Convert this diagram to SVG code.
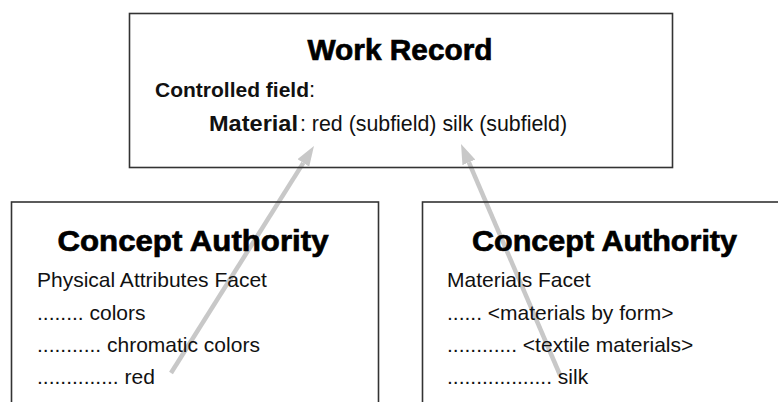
<svg xmlns="http://www.w3.org/2000/svg" width="778" height="402" viewBox="0 0 778 402">
  <style>
    .box { fill: none; stroke: #333; stroke-width: 1.6; }
    .title { font-family: "Liberation Sans", Arial, sans-serif; font-weight: bold; font-size: 30px; fill: #000; stroke: #000; stroke-width: 0.7; text-anchor: middle; }
    .bold { font-family: "Liberation Sans", Arial, sans-serif; font-weight: bold; fill: #111; }
    .txt { font-family: "Liberation Sans", Arial, sans-serif; font-size: 21px; fill: #111; }
    .lbl { font-family: "Liberation Sans", Arial, sans-serif; font-size: 22px; fill: #111; }
    .conn { stroke: #c8c8c8; stroke-width: 4.5; fill: none; }
  </style>
  <defs>
    <marker id="head" markerUnits="userSpaceOnUse" markerWidth="20" markerHeight="14" viewBox="0 -7 20 14" refX="0" refY="0" orient="auto">
      <path d="M0,-7 L20,0 L0,7 z" fill="#c8c8c8"/>
    </marker>
  </defs>
  <rect width="778" height="402" fill="#fff"/>
  <g id="connectors">
    <line class="conn" x1="171" y1="373" x2="303.3" y2="162.9" marker-end="url(#head)"/>
    <line class="conn" x1="560" y1="375" x2="468.9" y2="162.4" marker-end="url(#head)"/>
  </g>
  <g id="work-record">
    <rect class="box" x="129.5" y="13.5" width="543" height="154"/>
    <text class="title" x="400" y="60" textLength="185" lengthAdjust="spacingAndGlyphs">Work Record</text>
    <text class="bold" x="155" y="97" font-size="21">Controlled field</text>
    <text class="lbl" x="309" y="97">:</text>
    <text class="bold" x="209" y="131" font-size="22" textLength="89" lengthAdjust="spacingAndGlyphs">Material</text>
    <text class="lbl" x="300" y="131" textLength="267" lengthAdjust="spacingAndGlyphs">: red (subfield) silk (subfield)</text>
  </g>
  <g id="concept-authority-1">
    <rect class="box" x="11.5" y="202" width="367" height="240"/>
    <text class="title" x="193" y="251" textLength="271" lengthAdjust="spacingAndGlyphs">Concept Authority</text>
    <text class="txt" x="37" y="287">Physical Attributes Facet</text>
    <text class="txt" x="37" y="319.5">........ colors</text>
    <text class="txt" x="37" y="352">........... chromatic colors</text>
    <text class="txt" x="37" y="384">.............. red</text>
  </g>
  <g id="concept-authority-2">
    <rect class="box" x="422.5" y="202" width="400" height="240"/>
    <text class="title" x="604.5" y="251" textLength="265" lengthAdjust="spacingAndGlyphs">Concept Authority</text>
    <text class="txt" x="447" y="287">Materials Facet</text>
    <text class="txt" x="447" y="319.5">...... &lt;materials by form&gt;</text>
    <text class="txt" x="447" y="352">............ &lt;textile materials&gt;</text>
    <text class="txt" x="447" y="384">.................. silk</text>
  </g>
</svg>
